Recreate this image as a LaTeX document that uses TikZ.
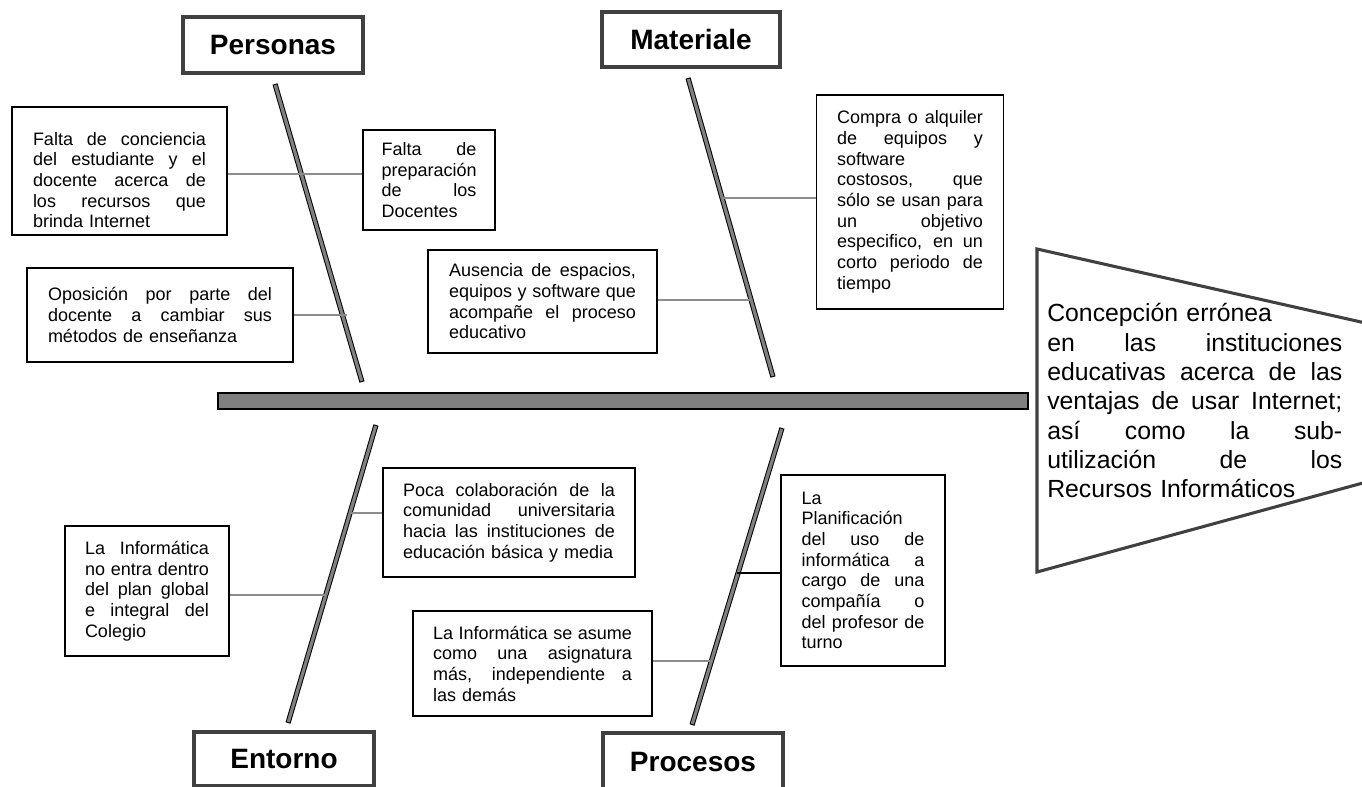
\documentclass[tikz,border=0pt]{standalone}
\usepackage{fontspec}
\setmainfont{Liberation Sans}
\definecolor{bonegray}{HTML}{808080}
\definecolor{catgray}{HTML}{404040}
\definecolor{conngray}{HTML}{8C8C8C}
\newcommand{\jl}[1]{\hbox to\linewidth{\spaceskip=.278em plus 1fil\relax#1}}
\newcommand{\nl}[1]{\hbox{#1}}
\newcommand{\bonedraw}[2]{%
  \draw[line width=3.9pt] (#1) -- (#2);
  \draw[line width=2.4pt, draw=bonegray, shorten <=0.8pt, shorten >=0.8pt] (#1) -- (#2);}
\tikzset{
  cbox/.style={draw, fill=white, line width=1.3pt, inner sep=0pt,
    font=\fontsize{13.5}{15.5}\selectfont},
  cat/.style={draw=catgray, fill=white, line width=3pt, inner sep=0pt,
    minimum width=135pt, minimum height=42pt,
    font=\bfseries\fontsize{21}{25}\selectfont},
  conn/.style={draw=conngray, line width=1.3pt},
}
\begin{document}
\begin{tikzpicture}[x=0.75pt,y=-0.75pt]
\useasboundingbox (0,0) rectangle (1362,787);
\clip (0,0) rectangle (1362,787);

% head
\draw[catgray, line width=2.3pt] (1037,249) -- (1685,395) -- (1037,572) -- cycle;
\node[anchor=base west, inner sep=0pt, text width=221.25pt,
  font=\fontsize{18.6}{22}\selectfont] (head) at (1047,322) {%
\nl{Concepción errónea}
\jl{en las instituciones}
\jl{educativas acerca de las}
\jl{ventajas de usar Internet;}
\jl{así como la sub-}
\jl{utilización de los}
\nl{Recursos Informáticos}};

% spine
\draw[fill=bonegray, line width=1.2pt] (218,393) rectangle (1028,409);

% bones
\coordinate (P1) at (275,84);  \coordinate (P2) at (362,382);
\coordinate (M1) at (688,78);  \coordinate (M2) at (773,377);
\coordinate (E1) at (376,425); \coordinate (E2) at (288,723);
\coordinate (R1) at (782,428); \coordinate (R2) at (692,725);
\bonedraw{P1}{P2}
\bonedraw{M1}{M2}
\bonedraw{E1}{E2}
\bonedraw{R1}{R2}

% category boxes
\node[cat] (personas) at (273,45) {Personas};
\node[cat, minimum width=133.5pt, minimum height=41.25pt] (materiale) at (691,39.5) {Materiale};
\node[cat, minimum height=40.5pt] (entorno) at (284,759) {Entorno};
\node[cat, minimum height=43.5pt] (procesos) at (693,762) {Procesos};

% cause boxes
\node[cbox, minimum width=161.25pt, minimum height=96pt, text width=129.75pt] (fc) at (119.5,171) {%
\vskip 8pt
\jl{Falta de conciencia}
\jl{del estudiante y el}
\jl{docente acerca de}
\jl{los recursos que}
\nl{brinda Internet}};

\node[cbox, minimum width=99pt, minimum height=75pt, text width=71.25pt] (fp) at (429,180) {%
\jl{Falta de}
\nl{preparación}
\jl{de los}
\nl{Docentes}};

\node[cbox, minimum width=199.5pt, minimum height=70.5pt, text width=168pt] (op) at (160,315) {%
\jl{Oposición por parte del}
\jl{docente a cambiar sus}
\nl{métodos de enseñanza}};

\node[cbox, minimum width=171.75pt, minimum height=77.25pt, text width=140.25pt] (au) at (542.5,301.5) {%
\jl{Ausencia de espacios,}
\jl{equipos y software que}
\jl{acompañe el proceso}
\nl{educativo}};

\node[cbox, minimum width=140.25pt, minimum height=160.5pt, text width=109.5pt] (co) at (910,202) {%
\jl{Compra o alquiler}
\jl{de equipos y}
\nl{software}
\jl{costosos, que}
\jl{sólo se usan para}
\jl{un objetivo}
\jl{especifico, en un}
\jl{corto periodo de}
\nl{tiempo}};

\node[cbox, minimum width=189pt, minimum height=81.75pt, text width=159pt] (pc) at (509,522.5) {%
\jl{Poca colaboración de la}
\jl{comunidad universitaria}
\jl{hacia las instituciones de}
\nl{educación básica y media}};

\node[cbox, minimum width=123pt, minimum height=97.5pt, text width=93pt] (ie) at (147,591) {%
\jl{La Informática}
\jl{no entra dentro}
\jl{del plan global}
\jl{e integral del}
\nl{Colegio}};

\node[cbox, minimum width=179.25pt, minimum height=78.75pt, text width=149.25pt] (ia) at (532.5,663.5) {%
\jl{La Informática se asume}
\jl{como una asignatura}
\jl{más, independiente a}
\nl{las demás}};

\node[cbox, minimum width=123pt, minimum height=143.25pt, text width=92.25pt] (pl) at (863,570.5) {%
\nl{La}
\nl{Planificación}
\jl{del uso de}
\jl{informática a}
\jl{cargo de una}
\jl{compañía o}
\jl{del profesor de}
\nl{turno}};

% connectors
\coordinate (k1) at (0,174);
\coordinate (k2) at (347,315);
\coordinate (k3) at (750,300);
\coordinate (k4) at (722,198);
\coordinate (k5) at (351,513);
\coordinate (k6) at (325,595);
\coordinate (k7) at (712,661);
\coordinate (k8) at (737,573);
\draw[conn] (fc.east |- k1) -- (fp.west |- k1);
\draw[conn] (op.east |- k2) -- (k2);
\draw[conn] (au.east |- k3) -- (k3);
\draw[conn] (k4) -- (co.west |- k4);
\draw[conn] (k5) -- (pc.west |- k5);
\draw[conn] (ie.east |- k6) -- (k6);
\draw[conn] (ia.east |- k7) -- (k7);
\draw[line width=1.3pt] (k8) -- (pl.west |- k8);
\end{tikzpicture}
\end{document}
